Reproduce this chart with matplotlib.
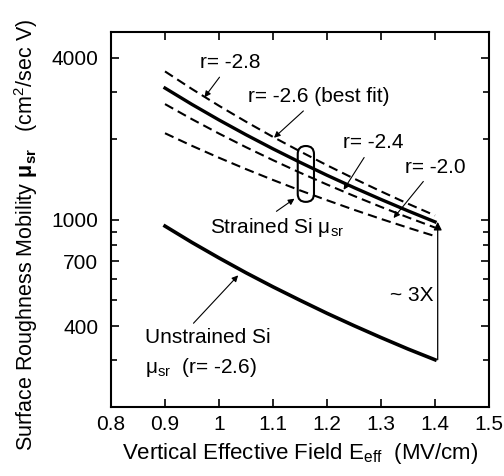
import matplotlib

matplotlib.use("Agg")

import matplotlib.pyplot as plt
from matplotlib.patches import FancyBboxPatch
from matplotlib.ticker import FixedLocator, NullFormatter

# field values (MV/cm)
field = [0.9, 0.95, 1.0, 1.05, 1.1, 1.15, 1.2, 1.25, 1.3, 1.35, 1.4]

# strained Si surface roughness mobility (cm^2/sec V)
strained_r28 = [3565, 3064, 2654, 2315, 2032, 1795, 1593, 1421, 1273, 1145, 1035]
strained_r26 = [3090, 2685, 2350, 2070, 1834, 1634, 1462, 1315, 1188, 1077, 980]
strained_r24 = [2693, 2365, 2091, 1860, 1664, 1495, 1350, 1224, 1114, 1018, 933]
strained_r20 = [2097, 1882, 1699, 1541, 1404, 1284, 1180, 1087, 1005, 932, 867]

# unstrained Si
unstrained_r26 = [945, 821, 719, 633, 561, 500, 447, 402, 363, 329, 300]

y_ticks = [400, 700, 1000, 4000]
y_minor = [300, 500, 600, 800, 900, 2000, 3000]
x_ticks = [0.8, 0.9, 1.0, 1.1, 1.2, 1.3, 1.4, 1.5]
x_tick_labels = ["0.8", "0.9", "1", "1.1", "1.2", "1.3", "1.4", "1.5"]

plt.rcParams["font.family"] = ["Liberation Sans", "DejaVu Sans"]
plt.rcParams["mathtext.fontset"] = "custom"
plt.rcParams["mathtext.rm"] = "Liberation Sans"
plt.rcParams["mathtext.it"] = "Liberation Sans"
plt.rcParams["mathtext.bf"] = "Liberation Sans:bold"

fs = 15
fs_label = 16

fig = plt.figure(figsize=(5.04, 4.76), dpi=100)
ax = fig.add_axes([111 / 504, 1 - 407 / 476, 378 / 504, 375 / 476])

dash = (0, (4.5, 2.5))
ax.plot(field, strained_r28, color="black", lw=1.5, linestyle=dash)
ax.plot(field, strained_r26, color="black", lw=2.4)
ax.plot(field, strained_r24, color="black", lw=1.5, linestyle=dash)
ax.plot(field, strained_r20, color="black", lw=1.5, linestyle=dash)
ax.plot(field, unstrained_r26, color="black", lw=2.6)

ax.set_yscale("log")
ax.set_xlim(0.8, 1.5)
ax.set_ylim(200, 5000)
ax.yaxis.set_major_locator(FixedLocator(y_ticks))
ax.yaxis.set_minor_locator(FixedLocator(y_minor))
ax.yaxis.set_minor_formatter(NullFormatter())
ax.set_yticklabels([str(v) for v in y_ticks])
ax.set_xticks(x_ticks)
ax.set_xticklabels(x_tick_labels)
ax.tick_params(which="both", direction="in", top=True, right=True,
               labelsize=fs, width=1.2)
ax.tick_params(which="major", length=6)
ax.tick_params(which="minor", length=4)
ax.tick_params(axis="y", which="both", pad=9)
ax.tick_params(axis="x", which="both", pad=6)
for sp in ax.spines.values():
    sp.set_linewidth(1.5)

ax.set_xlabel(r"Vertical Effective Field E$_{\mathrm{eff}}$  (MV/cm)",
              fontsize=fs_label, labelpad=5)
ax.set_ylabel(r"Surface Roughness Mobility $\mathbf{\mu_{sr}}$   (cm$^2$/sec V)",
              fontsize=15.5)
ax.yaxis.set_label_coords(-0.187, 0.459)

arrow = dict(arrowstyle="-|>", color="black", lw=0.8, mutation_scale=9)

ax.annotate("r= -2.8", xy=(0.970, 2800), xytext=(0.965, 3842),
            fontsize=fs, va="center", ha="left", arrowprops=arrow)
ax.annotate("r= -2.6 (best fit)", xy=(1.098, 1985), xytext=(1.054, 2867),
            fontsize=fs, va="center", ha="left", arrowprops=arrow)
ax.annotate("r= -2.4", xy=(1.228, 1265), xytext=(1.230, 1930),
            fontsize=fs, va="center", ha="left", arrowprops=arrow)
ax.annotate("r= -2.0", xy=(1.320, 994), xytext=(1.344, 1569),
            fontsize=fs, va="center", ha="left", arrowprops=arrow)
ax.annotate(r"Strained Si μ$_{\mathrm{sr}}$", xy=(1.144, 1212),
            xytext=(0.983, 936), fontsize=fs, va="center", ha="left",
            arrowprops=dict(arrow, relpos=(0.45, 1.0)))
ax.annotate("Unstrained Si", xy=(1.039, 630), xytext=(0.863, 363),
            fontsize=fs, va="center", ha="left",
            arrowprops=dict(arrow, relpos=(0.35, 1.0)))
ax.text(0.863, 280, r"μ$_{\mathrm{sr}}$  (r= -2.6)", fontsize=fs,
        va="center", ha="left")

# ~3X arrow from unstrained to strained at 1.4 MV/cm
ax.annotate("", xy=(1.405, strained_r26[-1]), xytext=(1.405, unstrained_r26[-1]),
            arrowprops=dict(arrowstyle="-|>", color="black", lw=0.9,
                            mutation_scale=12, shrinkA=0, shrinkB=0))
ax.text(1.398, 521, "~ 3X", fontsize=fs, va="center", ha="right")

# rounded outline grouping the strained curves
box = FancyBboxPatch((0.494, 0.547), 0.043, 0.149,
                     boxstyle="round,pad=0,rounding_size=0.0215",
                     transform=ax.transAxes, fill=False, lw=1.5, ec="black")
ax.add_patch(box)

fig.savefig("out.png", dpi=100)
